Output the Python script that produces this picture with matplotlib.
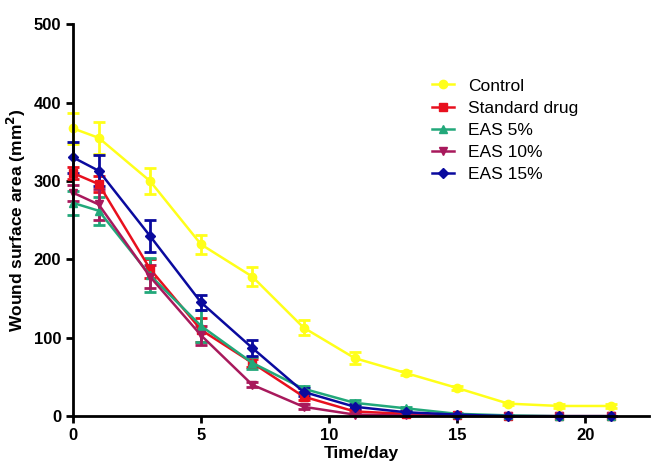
import matplotlib
matplotlib.use("Agg")
import matplotlib.pyplot as plt

plt.rcParams['font.family'] = ['Liberation Sans', 'DejaVu Sans']

# data
days = [0, 1, 3, 5, 7, 9, 11, 13, 15, 17, 19, 21]
control = [367, 355, 300, 219, 178, 113, 74, 55, 36, 16, 13, 13]
control_err = [20, 20, 17, 12, 12, 10, 8, 3, 3, 2, 2, 2]
standard = [310, 296, 188, 110, 68, 25, 6, 3, 1, 0, 0, 0]
standard_err = [8, 10, 12, 15, 5, 4, 2, 1, 1, 0, 0, 0]
eas5 = [272, 262, 180, 115, 68, 35, 17, 10, 3, 1, 0, 0]
eas5_err = [15, 18, 22, 20, 8, 4, 3, 2, 1, 0, 0, 0]
eas10 = [285, 270, 178, 103, 40, 12, 2, 1, 0, 0, 0, 0]
eas10_err = [10, 20, 15, 12, 3, 3, 1, 1, 0, 0, 0, 0]
eas15 = [330, 313, 230, 145, 87, 31, 12, 5, 2, 0, 0, 0]
eas15_err = [20, 20, 20, 10, 10, 5, 3, 2, 1, 0, 0, 0]

series = [
    ("Control", control, control_err, "#FFFF1A", "o"),
    ("Standard drug", standard, standard_err, "#E8101E", "s"),
    ("EAS 5%", eas5, eas5_err, "#22A87A", "^"),
    ("EAS 10%", eas10, eas10_err, "#A8195C", "v"),
    ("EAS 15%", eas15, eas15_err, "#0A0A9E", "D"),
]

fig = plt.figure(figsize=(6.53, 4.65), dpi=100)
ax = fig.add_axes([0.112, 0.105, 0.882, 0.843])

handles = []
for name, vals, err, col, mk in series:
    c = ax.errorbar(days, vals, yerr=err, color=col, marker=mk,
                    markersize=6 if mk != "D" else 5,
                    linewidth=1.8, elinewidth=2, capsize=4, capthick=2, label=name)
    for art in [c.lines[0]] + list(c.lines[1]) + list(c.lines[2]):
        art.set_clip_on(False)
    handles.append(c.lines[0])

ax.set_xlim(0, 22.5)
ax.set_ylim(0, 500)
ax.set_xticks([0, 5, 10, 15, 20])
ax.set_yticks([0, 100, 200, 300, 400, 500])

for s in ['top', 'right']:
    ax.spines[s].set_visible(False)
for s in ['left', 'bottom']:
    ax.spines[s].set_linewidth(2)
ax.tick_params(width=2, length=5, labelsize=12)
for lab in ax.get_xticklabels() + ax.get_yticklabels():
    lab.set_fontweight('bold')

ax.set_xlabel("Time/day", fontsize=12.5, fontweight='bold', labelpad=2)
ax.set_ylabel("Wound surface area (mm$^\\mathbf{2}$)", fontsize=12.5, fontweight='bold')

ax.legend(handles=handles, labels=[s[0] for s in series], loc='upper left',
          bbox_to_anchor=(0.637, 0.865), bbox_transform=fig.transFigure,
          frameon=False, fontsize=12.5, handlelength=1.3, handletextpad=0.8,
          labelspacing=0.4)

plt.savefig("out.png", dpi=100)
